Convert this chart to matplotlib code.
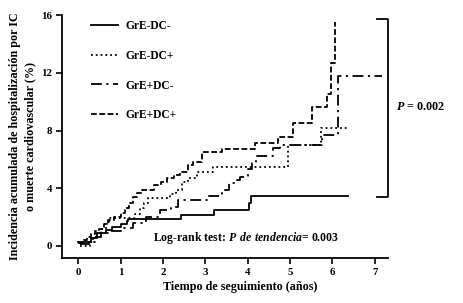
import matplotlib
matplotlib.use("Agg")
import matplotlib.pyplot as plt

# fonts: Times-like bold serif everywhere
plt.rcParams["font.family"] = "Liberation Serif"
plt.rcParams["font.weight"] = "bold"
plt.rcParams["mathtext.fontset"] = "custom"
plt.rcParams["mathtext.bfit"] = "Liberation Serif:italic:bold"
plt.rcParams["mathtext.rm"] = "Liberation Serif:bold"

# ---- data (step curves: time in years, cumulative %) ----
labels = ["GrE-DC-", "GrE-DC+", "GrE+DC-", "GrE+DC+"]

t_a = [0.0, 0.3, 0.45, 0.65, 0.8, 1.0, 1.15, 1.18, 2.43, 3.2, 4.03, 4.08, 6.36]
y_a = [0.28, 0.55, 0.9, 1.1, 1.3, 1.5, 1.7, 1.85, 2.15, 2.5, 3.0, 3.45, 3.45]

t_b = [0.05, 0.28, 0.35, 0.45, 0.55, 0.65, 0.72, 1.35, 1.45, 1.55, 1.65, 2.17,
       2.3, 2.45, 2.6, 2.8, 3.18, 4.95, 5.72, 6.4]
y_b = [0.0, 0.3, 0.6, 0.9, 1.2, 1.5, 1.9, 2.2, 2.6, 3.0, 3.3, 3.6,
       3.9, 4.4, 4.7, 5.1, 5.5, 7.0, 8.2, 8.2]

t_c = [0.05, 0.25, 0.4, 0.55, 0.75, 1.0, 1.3, 1.6, 1.93, 2.2, 2.36, 3.07, 3.4,
       3.55, 3.7, 3.82, 4.0, 4.1, 4.2, 4.6, 4.76, 5.75, 6.13, 7.17]
y_c = [0.1, 0.3, 0.6, 0.9, 1.0, 1.25, 1.6, 2.0, 2.5, 2.7, 3.2, 3.47, 3.9,
       4.35, 4.6, 4.8, 5.3, 5.75, 6.2, 6.8, 7.0, 7.7, 11.8, 11.8]

t_d = [0.0, 0.12, 0.2, 0.3, 0.4, 0.5, 0.6, 0.7, 0.85, 1.0, 1.1, 1.2, 1.3, 1.4,
       1.5, 1.8, 1.95, 2.1, 2.25, 2.4, 2.6, 2.7, 2.92, 3.4, 4.17, 4.72, 5.07,
       5.52, 5.87, 5.96, 6.06]
y_d = [0.2, 0.4, 0.6, 0.8, 1.0, 1.2, 1.5, 1.8, 2.0, 2.3, 2.6, 3.0, 3.4, 3.7,
       3.9, 4.2, 4.4, 4.7, 4.9, 5.1, 5.6, 5.8, 6.5, 6.7, 7.15, 7.55, 8.5,
       9.6, 10.5, 12.7, 15.55]

x_ticks = [0, 1, 2, 3, 4, 5, 6, 7]
y_ticks = [0, 4, 8, 12, 16]

fig = plt.figure(figsize=(4.63, 3.03), dpi=100)
ax = fig.add_axes([0.134, 0.149, 0.704, 0.801])

styles = ["-", ":", (0, (6, 2.5, 1.2, 2.5)), (0, (3.2, 1.4))]
for t, y, ls, lab in zip([t_a, t_b, t_c, t_d], [y_a, y_b, y_c, y_d], styles, labels):
    ax.step(t, y, where="post", color="black", lw=1.3, ls=ls, label=lab)

ax.set_xlim(-0.38, 7.31)
ax.set_ylim(-0.83, 16)
ax.set_xticks(x_ticks)
ax.set_yticks(y_ticks)
ax.tick_params(labelsize=7.8, length=4, width=1.2, direction="out", pad=3)
for s in ["top", "right"]:
    ax.spines[s].set_visible(False)
for s in ["left", "bottom"]:
    ax.spines[s].set_linewidth(1.3)

ax.set_xlabel("Tiempo de seguimiento (años)", fontsize=8.7, fontweight="bold")
ax.xaxis.set_label_coords(0.546, -0.095)
ax.set_ylabel("Incidencia acumulada de hospitalización por IC\no muerte cardiovascular (%)",
              fontsize=8.7, fontweight="bold", linespacing=1.3)
ax.yaxis.set_label_coords(-0.08, 0.5)

ax.legend(loc="upper left", bbox_to_anchor=(0.09, 0.978), frameon=False,
          fontsize=8.3, handlelength=2.35, handletextpad=0.6, labelspacing=1.52,
          borderpad=0, borderaxespad=0)

ax.text(1.77, 0.55, r"Log-rank test: $\mathbfit{P\ de\ tendencia}$= 0.003",
        fontsize=8.5, fontweight="bold", va="center", ha="left")

# bracket for the overall comparison
ax.plot([7.05, 7.3, 7.3, 7.05], [15.7, 15.7, 3.4, 3.4], color="black", lw=1.3,
        clip_on=False)
ax.text(7.5, 9.6, r"$\mathbfit{P}$ = 0.002", fontsize=8.7, fontweight="bold",
        va="center", ha="left", clip_on=False)

fig.savefig("out.png", dpi=100)
